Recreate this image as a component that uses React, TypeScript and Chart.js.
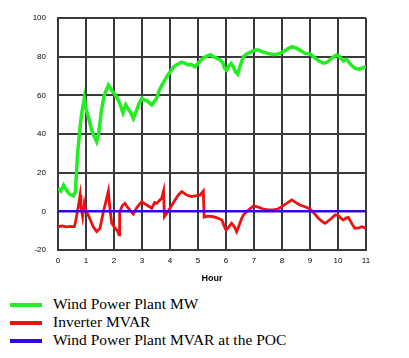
import React, { useEffect, useRef } from "react";
import { Chart, registerables } from "chart.js";

Chart.register(...registerables);

const xTicks = [0, 1, 2, 3, 4, 5, 6, 7, 8, 9, 10, 11];
const yTicks = [-20, 0, 20, 40, 60, 80, 100];

const greenHours = [
  0, 0.1, 0.2, 0.3, 0.4, 0.55, 0.62, 0.7, 0.8, 0.85, 0.94, 1.0, 1.1, 1.2, 1.3, 1.38, 1.45, 1.55, 1.65, 1.8,
  1.9, 2.0, 2.1, 2.2, 2.32, 2.42, 2.5, 2.6, 2.69, 2.8, 2.9, 3.0, 3.1, 3.2, 3.35, 3.45, 3.52, 3.6, 3.7, 3.82,
  3.9, 4.0, 4.12, 4.25, 4.42, 4.55, 4.65, 4.75, 4.89, 5.0, 5.1, 5.2, 5.31, 5.45, 5.55, 5.7, 5.79, 5.88, 5.95, 6.02,
  6.1, 6.18, 6.26, 6.35, 6.42, 6.5, 6.62, 6.75, 6.92, 7.04, 7.15, 7.3, 7.5, 7.7, 7.93, 8.05, 8.2, 8.35, 8.5, 8.64,
  8.82, 9.0, 9.12, 9.3, 9.48, 9.6, 9.77, 9.95, 10.05, 10.19, 10.31, 10.45, 10.6, 10.75, 10.85, 11,
];
const windPlantMW = [
  12, 10.5, 13.5, 11, 9, 8, 10, 30, 45, 51, 58.5, 53, 48, 42, 38.5, 36, 40, 52, 60, 65.3,
  63, 61, 59, 56, 51, 55, 53, 51, 48, 52, 56, 58.5, 57.5, 57, 55, 57, 58.5, 62, 65, 68,
  70, 72, 74.5, 76, 77.2, 76.5, 75.7, 76, 74.8, 76.5, 78, 79.5, 80.3, 81, 80, 79, 78.3, 77, 74, 73,
  75, 76.5, 74.8, 72, 71, 75, 80, 81.5, 82.6, 83.4, 83.4, 82.5, 81.7, 81, 81.7, 82.6, 84, 85.2, 84.5, 83.4,
  81.7, 81.5, 80, 78, 76.6, 77, 79.1, 80.9, 80, 77.8, 78.6, 76, 74, 73.5, 74, 74.8,
];

const redHours = [
  0, 0.15, 0.3, 0.45, 0.58, 0.62, 0.67, 0.73, 0.79, 0.82, 0.88, 0.94, 0.99, 1.08, 1.17, 1.26, 1.38, 1.5, 1.62, 1.71,
  1.8, 1.83, 1.86, 1.92, 2.04, 2.12, 2.18, 2.2, 2.24, 2.3, 2.39, 2.51, 2.6, 2.69, 2.8, 2.9, 2.99, 3.08, 3.17, 3.35,
  3.45, 3.52, 3.64, 3.7, 3.77, 3.8, 3.88, 4.0, 4.18, 4.3, 4.42, 4.6, 4.77, 4.9, 5.07, 5.19, 5.22, 5.35, 5.55, 5.7,
  5.85, 5.92, 6.0, 6.1, 6.2, 6.3, 6.38, 6.45, 6.55, 6.62, 6.75, 6.98, 7.1, 7.33, 7.51, 7.69, 7.85, 7.99, 8.15, 8.35,
  8.5, 8.64, 8.82, 9.0, 9.15, 9.3, 9.45, 9.54, 9.65, 9.77, 9.9, 10.0, 10.1, 10.19, 10.28, 10.37, 10.5, 10.6, 10.75, 10.85,
  11,
];
const inverterMVAR = [
  -8, -7.5, -8, -7.8, -8, -6, -2, 3, 8.4, 2.4, -2.8, 4.1, 0.7, -1.9, -5, -8, -10.5, -8.8, -0.2, 5,
  10.5, 5, 0.7, -6.2, -8.8, -10, -12.2, -1, 1, 3, 4.1, 1.6, 0, -1.4, 1.6, 3.5, 5, 4, 3.3, 1.6,
  4.5, 4.1, 5.9, 6.7, 10.5, -2.8, -1.1, 1.6, 5.9, 8.5, 10.2, 8.4, 7.6, 8, 8.4, 10.5, -3, -2.5, -2.8, -3.5,
  -4.5, -7, -9.7, -8, -6.2, -8, -10.5, -8, -4, -1.9, 0, 2.8, 2.4, 1.2, 0.7, 0.7, 1.2, 2.4, 4, 5.9,
  4.5, 3.3, 2.4, 1.2, -1, -3.6, -5.4, -6.2, -5, -3.6, -1.9, -2, -3.5, -4.5, -3.5, -3.1, -6.5, -8.8, -8.5, -8,
  -8.8,
];

const blueHours = [0, 2, 4, 6, 8, 10, 11];
const pocMVAR = [0, 0, 0, 0, 0, 0, 0];

const seriesNames = ["Wind Power Plant MW", "Inverter MVAR", "Wind Power Plant MVAR at the POC"];
const seriesColors = ["#22ee22", "#ee1111", "#3308dd"];

const pts = (xs: number[], ys: number[]) => xs.map((x, i) => ({ x, y: ys[i] }));

export default function App() {
  const ref = useRef<HTMLCanvasElement | null>(null);

  useEffect(() => {
    if (!ref.current) return;
    const gridColor = "#3a3a3a";
    const chart = new Chart(ref.current, {
      type: "line",
      data: {
        datasets: [
          {
            label: seriesNames[0],
            data: pts(greenHours, windPlantMW),
            borderColor: seriesColors[0],
            borderWidth: 3.5,
            pointRadius: 0,
            tension: 0,
            order: 2,
          },
          {
            label: seriesNames[1],
            data: pts(redHours, inverterMVAR),
            borderColor: seriesColors[1],
            borderWidth: 2.8,
            pointRadius: 0,
            tension: 0,
            order: 1,
          },
          {
            label: seriesNames[2],
            data: pts(blueHours, pocMVAR),
            borderColor: seriesColors[2],
            borderWidth: 2.5,
            pointRadius: 0,
            tension: 0,
            order: 0,
          },
        ],
      },
      options: {
        responsive: false,
        animation: false,
        layout: { padding: { left: 0, right: 43, top: 18, bottom: 0 } },
        plugins: { legend: { display: false }, tooltip: { enabled: false } },
        scales: {
          x: {
            type: "linear",
            min: 0,
            max: 11,
            afterBuildTicks: (s: any) => {
              s.ticks = xTicks.map((v) => ({ value: v }));
            },
            afterFit: (s: any) => {
              s.height = 40;
            },
            grid: { color: gridColor, lineWidth: 2, drawTicks: false },
            border: { color: gridColor, width: 2 },
            ticks: {
              color: "#000",
              padding: 6,
              maxRotation: 0,
              font: { family: "Liberation Sans", size: 8 },
            },
            title: {
              display: true,
              text: "Hour",
              color: "#000",
              font: { family: "Liberation Sans", size: 9, weight: "bold" },
              padding: { top: 0, bottom: 6 },
            },
          },
          y: {
            type: "linear",
            min: -20,
            max: 100,
            afterBuildTicks: (s: any) => {
              s.ticks = yTicks.map((v) => ({ value: v }));
            },
            afterFit: (s: any) => {
              s.width = 58;
            },
            grid: { color: gridColor, lineWidth: 2, drawTicks: false },
            border: { color: gridColor, width: 2 },
            ticks: {
              color: "#000",
              padding: 12,
              font: { family: "Liberation Sans", size: 8 },
            },
          },
        },
      },
    } as any);
    return () => chart.destroy();
  }, []);

  const rowTops = [295, 313, 331];

  return (
    <div style={{ position: "fixed", left: 0, top: 0, width: 409, height: 358, background: "#fff" }}>
      <canvas ref={ref} width={409} height={290} style={{ position: "absolute", left: 0, top: 0 }} />
      {seriesNames.map((name, i) => (
        <div key={name}>
          <div
            style={{
              position: "absolute",
              left: 10,
              top: rowTops[i] + 7.5,
              width: 32,
              height: 4,
              background: seriesColors[i],
            }}
          />
          <div
            style={{
              position: "absolute",
              left: 53,
              top: rowTops[i],
              fontFamily: "Liberation Serif, Times New Roman, Times, serif",
              fontSize: "15.5px",
              lineHeight: "18px",
              color: "#000",
              whiteSpace: "nowrap",
            }}
          >
            {name}
          </div>
        </div>
      ))}
    </div>
  );
}
